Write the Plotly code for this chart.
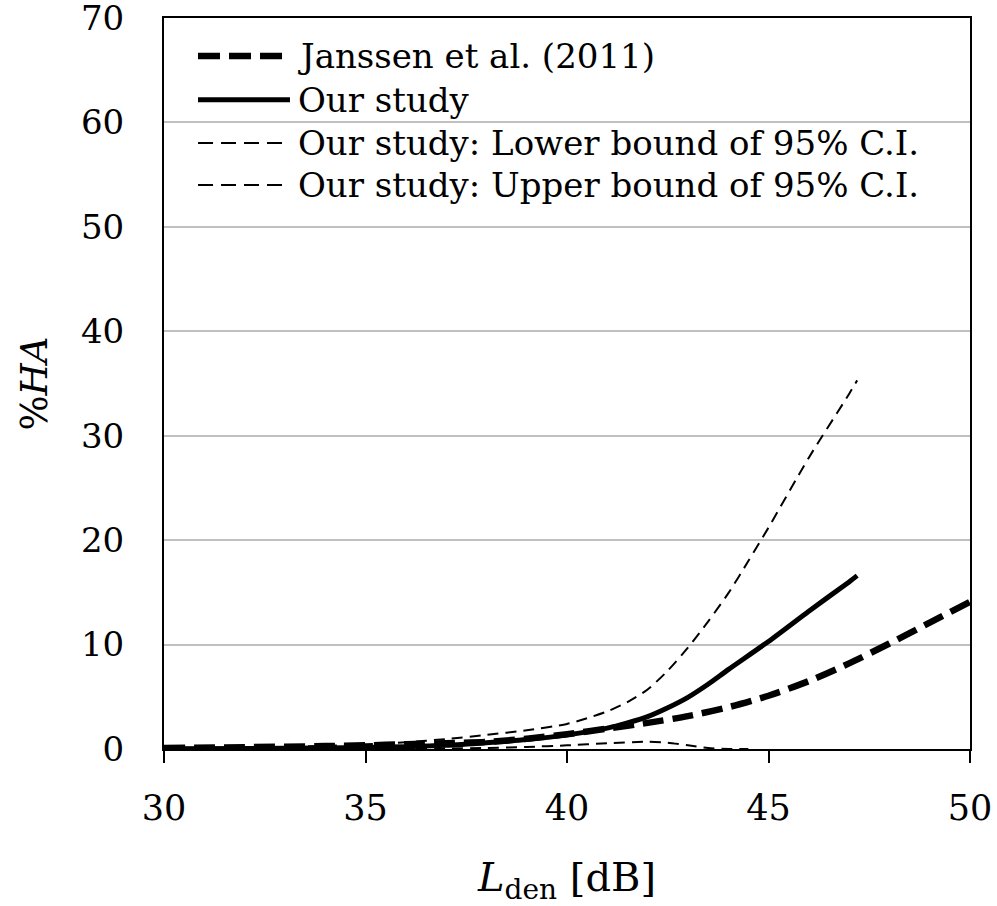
import plotly.graph_objects as go

# ---- data ----
janssen_x = [30, 32, 34, 35, 36, 37, 38, 39, 40, 41, 42, 43, 44, 45, 46, 47, 48, 49, 50]
janssen_y = [0.1, 0.17, 0.28, 0.35, 0.45, 0.56, 0.68, 0.98, 1.42, 1.95, 2.5, 3.15, 4.0, 5.1, 6.5, 8.2, 10.1, 12.1, 14.1]

study_x = [30, 32, 34, 35, 36, 37, 38, 39, 40, 41, 41.5, 42, 42.5, 43, 43.5, 44, 45, 46, 47, 47.2]
study_y = [0.02, 0.05, 0.1, 0.15, 0.22, 0.35, 0.6, 0.9, 1.35, 2.0, 2.5, 3.1, 3.95, 4.95, 6.2, 7.6, 10.3, 13.2, 16.0, 16.6]

upper_x = [30, 32, 34, 35, 36, 37, 38, 39, 40, 40.5, 41, 41.5, 42, 42.5, 43, 43.5, 44, 44.5, 45, 46, 47, 47.2]
upper_y = [0.05, 0.12, 0.3, 0.45, 0.65, 0.95, 1.35, 1.8, 2.4, 2.95, 3.6, 4.5, 5.7, 7.5, 9.7, 12.2, 14.9, 18.0, 21.2, 27.9, 34.0, 35.3]

lower_x = [30, 32, 34, 36, 37, 38, 39, 40, 41, 42, 42.5, 43, 43.5, 44, 44.5]
lower_y = [0.0, 0.0, 0.01, 0.02, 0.05, 0.1, 0.2, 0.35, 0.55, 0.7, 0.6, 0.35, 0.1, 0.0, 0.0]

legend_labels = ["Janssen et al. (2011)", "Our study",
                 "Our study: Lower bound of 95% C.I.",
                 "Our study: Upper bound of 95% C.I."]

x_ticks = [30, 35, 40, 45, 50]
y_ticks = [0, 10, 20, 30, 40, 50, 60, 70]

FONT = "Georgia, 'DejaVu Serif', serif"

styles = [
    dict(color="black", width=6.5, dash="21px,9px"),
    dict(color="black", width=5, dash="solid"),
    dict(color="black", width=2, dash="11px,7px"),
    dict(color="black", width=2, dash="11px,7px"),
]
legend_dash = ["22px,9px", "solid", "15px,8px", "15px,8px"]

fig = go.Figure()
series = [(janssen_x, janssen_y), (study_x, study_y), (lower_x, lower_y), (upper_x, upper_y)]
for (xs, ys), st, name in zip(series, styles, legend_labels):
    fig.add_trace(go.Scatter(x=xs, y=ys, mode="lines", name=name,
                             line=dict(shape="spline", smoothing=0.7, **st),
                             showlegend=False, cliponaxis=True))

# custom legend (long line samples like the original), white box hides gridline
shapes = [dict(type="rect", xref="paper", yref="paper", x0=0.0223, x1=0.944,
               y0=0.744, y1=0.977, fillcolor="white", line=dict(width=0), layer="between")]
annotations = []
row_y = [0.948, 0.888, 0.829, 0.7715]
for ry, st, dsh, name in zip(row_y, styles, legend_dash, legend_labels):
    shapes.append(dict(type="line", xref="paper", yref="paper", x0=0.0422, x1=0.1563,
                       y0=ry, y1=ry, line=dict(color=st["color"], width=st["width"],
                                               dash=dsh), layer="above"))
    annotations.append(dict(xref="paper", yref="paper", x=0.164, y=ry, text=name,
                            showarrow=False, xanchor="left", yanchor="middle",
                            font=dict(family=FONT, size=34, color="black")))

fig.update_layout(
    width=997, height=906,
    margin=dict(l=164, r=27, t=18, b=157),
    paper_bgcolor="white", plot_bgcolor="white",
    font=dict(family=FONT, size=35, color="black"),
    shapes=shapes, annotations=annotations,
    showlegend=False,
)
fig.update_xaxes(range=[30, 50], tickvals=x_ticks, ticks="outside", ticklen=12,
                 tickwidth=2, tickcolor="black", showline=True, linecolor="black",
                 linewidth=2, mirror=True, showgrid=False, zeroline=False,
                 automargin=False, tickfont=dict(size=35), ticklabelstandoff=15,
                 ticklabeloverflow="allow",
                 title=dict(text="<i>L</i><sub>den</sub> [dB]", font=dict(size=40), standoff=40))
fig.update_yaxes(range=[0, 70], tickvals=y_ticks, ticks="", showline=True,
                 linecolor="black", linewidth=2, mirror=True, showgrid=True,
                 gridcolor="#c0c0c0", gridwidth=2, zeroline=False,
                 automargin=False, tickfont=dict(size=34), ticklabelstandoff=31,
                 ticklabeloverflow="allow",
                 title=dict(text="%<i>HA</i>", font=dict(size=37), standoff=22))

fig.write_html("out.html", config={"displayModeBar": False},
               post_script="document.body.style.margin='0';")
